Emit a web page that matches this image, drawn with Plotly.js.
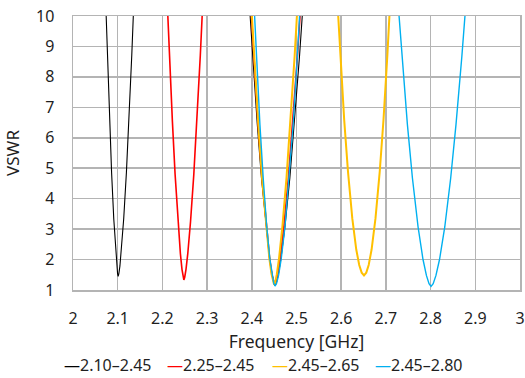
<!DOCTYPE html>
<html>
<head>
<meta charset="utf-8">
<script src="https://cdn.plot.ly/plotly-3.0.1.min.js"></script>
<style>html,body{margin:0;padding:0;background:#fff;}#chart{width:525px;height:378px;}</style>
</head>
<body>
<div id="chart"></div>
<script>
// Series names (legend)
const seriesNames = ["2.10\u20132.45", "2.25\u20132.45", "2.45\u20132.65", "2.45\u20132.80"];
const seriesColors = ["#000000", "#ff0000", "#ffc000", "#00b0f0"];

// 2.10–2.45 (black)
const freqBlack = [2.0722,2.0768,2.0818,2.0863,2.0912,2.0952,2.0978,2.0997,2.101,2.1026,2.1050,2.1083,2.1134,2.1195,2.1252,2.1315,2.1372, null,
                   2.3923,2.4018,2.4122,2.4216,2.4316,2.4399,2.4454,2.4494,2.452,2.4548,2.4591,2.4651,2.4742,2.4851,2.4954,2.5067,2.5170];
const vswrBlack = [10.86,8.72,6.58,4.87,3.33,2.31,1.79,1.54,1.45,1.54,1.79,2.31,3.33,4.87,6.58,8.72,10.86, null,
                   10.89,8.67,6.46,4.68,3.09,2.03,1.49,1.23,1.14,1.23,1.49,2.03,3.09,4.68,6.46,8.67,10.89];

// 2.25–2.45 (red)
const freqRed = [2.2096,2.2157,2.2224,2.2284,2.2349,2.2402,2.2438,2.2463,2.248,2.2499,2.2528,2.2568,2.2629,2.2703,2.2772,2.2848,2.2917, null,
                 2.3956,2.4043,2.4140,2.4228,2.4321,2.4398,2.4449,2.4486,2.451,2.4536,2.4577,2.4633,2.4718,2.4820,2.4915,2.5021,2.5117];
const vswrRed = [10.87,8.70,6.53,4.80,3.24,2.20,1.68,1.42,1.33,1.42,1.68,2.20,3.24,4.80,6.53,8.70,10.87, null,
                 10.88,8.68,6.47,4.70,3.11,2.05,1.52,1.26,1.17,1.26,1.52,2.05,3.11,4.70,6.47,8.68,10.88];

// 2.45–2.65 (yellow)
const freqYellow = [2.3967,2.4051,2.4144,2.4228,2.4318,2.4392,2.4441,2.4477,2.450,2.4524,2.4560,2.4610,2.4686,2.4777,2.4863,2.4958,2.5043, null,
                    2.5900,2.5977,2.6067,2.6152,2.6248,2.6337,2.6403,2.6458,2.651,2.6561,2.6615,2.6680,2.6767,2.6862,2.6946,2.7033,2.7109];
const vswrYellow = [10.88,8.68,6.47,4.70,3.11,2.05,1.52,1.26,1.17,1.26,1.52,2.05,3.11,4.70,6.47,8.68,10.88, null,
                    10.85,8.72,6.59,4.89,3.35,2.33,1.82,1.57,1.48,1.57,1.82,2.33,3.35,4.89,6.59,8.72,10.85];

// 2.45–2.80 (blue)
const freqBlue = [2.4033,2.4103,2.4181,2.4255,2.4334,2.4404,2.4453,2.4491,2.452,2.4555,2.4600,2.4658,2.4742,2.4837,2.4925,2.5019,2.5102, null,
                  2.7248,2.7357,2.7480,2.7594,2.7720,2.7829,2.7906,2.7965,2.801,2.8058,2.8120,2.8201,2.8317,2.8449,2.8569,2.8699,2.8815];
const vswrBlue = [10.89,8.67,6.45,4.68,3.08,2.02,1.49,1.22,1.13,1.22,1.49,2.02,3.08,4.68,6.45,8.67,10.89, null,
                  10.89,8.67,6.45,4.67,3.07,2.01,1.48,1.21,1.12,1.21,1.48,2.01,3.07,4.67,6.45,8.67,10.89];

const xTitle = "Frequency [GHz]";
const yTitle = "VSWR";

const allX = [freqBlack, freqRed, freqYellow, freqBlue];
const allY = [vswrBlack, vswrRed, vswrYellow, vswrBlue];
const widths = [1.1, 1.6, 2, 1.4];

const traces = allX.map((xs, i) => ({
  x: xs, y: allY[i], type: "scatter", mode: "lines", name: seriesNames[i],
  connectgaps: false, line: {color: seriesColors[i], width: widths[i]}, showlegend: false
}));

const FONT = "Noto Sans, Open Sans, sans-serif";
const textColor = "#1f1f1f";
const gridColor = "#b4b4b4";

const legendX = [62, 165, 270, 373];
const annotations = seriesNames.map((n, i) => ({
  xref: "paper", yref: "paper",
  x: (legendX[i] - 73) / 447, y: -(365 - 290) / 274,
  xanchor: "left", yanchor: "middle", showarrow: false,
  text: '<span style="color:' + seriesColors[i] + '">\u2014</span>' + n,
  font: {family: FONT, size: 16, color: textColor}
}));

const layout = {
  width: 525, height: 378,
  margin: {l: 73, r: 5, t: 16, b: 88},
  paper_bgcolor: "#ffffff", plot_bgcolor: "#ffffff",
  font: {family: FONT, size: 16, color: textColor},
  showlegend: false,
  xaxis: {
    range: [2, 3], dtick: 0.1, tick0: 2,
    showgrid: true, gridcolor: gridColor, gridwidth: 1.5,
    showline: true, linecolor: gridColor, linewidth: 1.5, mirror: true,
    zeroline: false, ticks: "", ticklabelstandoff: 13,
    tickfont: {family: FONT, size: 16, color: textColor},
    title: {text: xTitle, font: {family: FONT, size: 17.5, color: textColor}, standoff: 5}
  },
  yaxis: {
    range: [1, 10], dtick: 1, tick0: 1,
    showgrid: true, gridcolor: gridColor, gridwidth: 1.5,
    showline: true, linecolor: gridColor, linewidth: 1.5, mirror: true,
    zeroline: false, ticks: "", ticklabelstandoff: 14,
    tickfont: {family: FONT, size: 16, color: textColor},
    title: {text: yTitle, font: {family: FONT, size: 17, color: textColor}, standoff: 12}
  },
  annotations: annotations
};

Plotly.newPlot("chart", traces, layout, {displayModeBar: false, staticPlot: true});
</script>
</body>
</html>
